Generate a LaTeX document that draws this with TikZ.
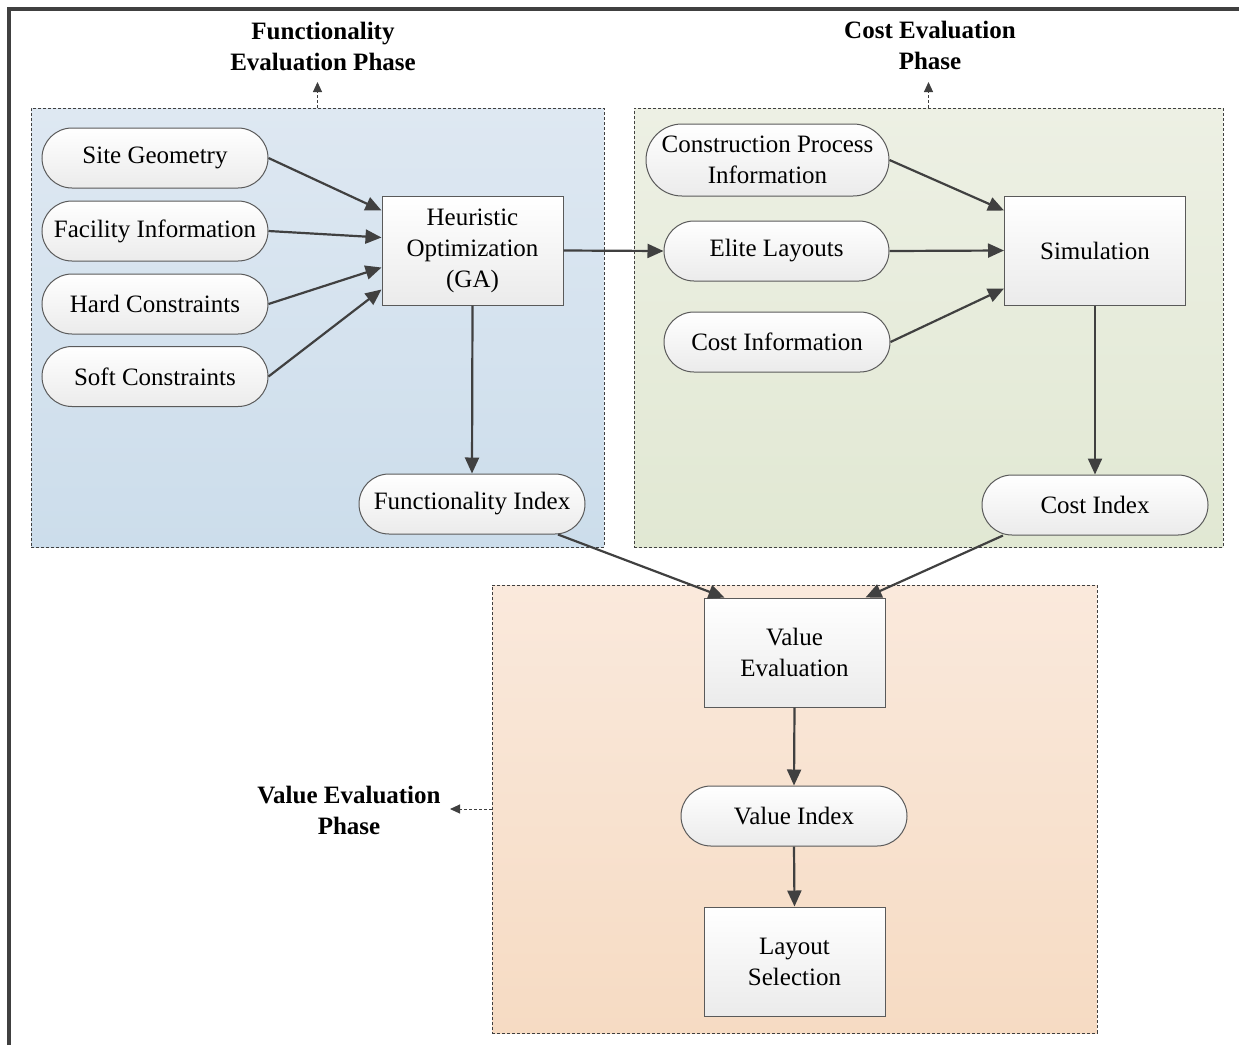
\documentclass[tikz,border=0pt]{standalone}
\usepackage{fontspec}
\setmainfont{Liberation Serif}
\usetikzlibrary{arrows.meta,calc}
\definecolor{linec}{HTML}{404040}
\definecolor{nodeb}{HTML}{5A5A5A}
\definecolor{blueT}{HTML}{DEE8F2}
\definecolor{blueB}{HTML}{CCDDEB}
\definecolor{greenT}{HTML}{EDF0E4}
\definecolor{greenB}{HTML}{E1E8D3}
\definecolor{orT}{HTML}{FAE9DC}
\definecolor{orB}{HTML}{F6DBC3}
\definecolor{grayB}{HTML}{EBEBEB}
\tikzset{
  txt/.style={font=\fontsize{25}{31}\selectfont, align=center},
  pill/.style={txt, rectangle, rounded corners=30pt, minimum width=226pt, minimum height=60pt,
    draw=nodeb, line width=1pt, top color=white, bottom color=grayB, inner sep=0pt},
  procbox/.style={txt, rectangle, minimum width=181pt, minimum height=109pt,
    draw=nodeb, line width=1pt, top color=white, bottom color=grayB, inner sep=0pt},
  phasebox/.style={rectangle, draw=linec, dash pattern=on 3pt off 2pt, line width=0.9pt, inner sep=0pt},
  phaselabel/.style={font=\bfseries\fontsize{25}{31}\selectfont, align=center, inner sep=0pt},
  conn/.style={draw=linec, line width=2.2pt, -{Triangle[length=16pt,width=14pt]}},
  dconn/.style={draw=linec, line width=1pt, dash pattern=on 3pt off 2pt, -{Triangle[length=10pt,width=9pt]}},
}
\begin{document}
\begin{tikzpicture}[x=1pt,y=-1pt]
\useasboundingbox (0,0) rectangle (1239,1045);
% outer frame
\draw[line width=4.5pt, linec] (9,1045) -- (9,9) -- (1239,9);

% phase regions
\node[phasebox, minimum width=573pt, minimum height=439pt, top color=blueT, bottom color=blueB] (fp) at (317.5,327.5) {};
\node[phasebox, minimum width=589pt, minimum height=439pt, top color=greenT, bottom color=greenB] (cp) at (928.5,327.5) {};
\node[phasebox, minimum width=605pt, minimum height=448pt, top color=orT, bottom color=orB] (vp) at (794.5,809) {};

% phase labels
\node[phaselabel] (fpl) at (323,46) {Functionality\\Evaluation Phase};
\node[phaselabel] (cpl) at (930,45) {Cost Evaluation\\Phase};
\node[phaselabel] (vpl) at (349,810) {Value Evaluation\\Phase};
\coordinate (fpt) at (316,82);
\coordinate (cpt) at (930,82);
\coordinate (vpt) at (450,809);
\draw[dconn] (fp.north) -- (fp.north |- fpt);
\draw[dconn] (cp.north) -- (cp.north |- cpt);
\draw[dconn] (vp.west) -- (vpt |- vp.west);

% functionality phase
\node[pill] (sg) at (155,158) {Site Geometry};
\node[pill] (fi) at (155,231) {Facility Information};
\node[pill] (hc) at (155,304) {Hard Constraints};
\node[pill] (sc) at (155,376.5) {Soft Constraints};
\node[procbox] (ho) at (472.5,250.5) {Heuristic\\Optimization\\(GA)};
\node[pill] (fx) at (472,504) {Functionality Index};

% cost phase
\node[pill, minimum width=243pt, minimum height=72pt, rounded corners=36pt] (cpi) at (767.5,160) {Construction Process\\Information};
\node[pill, minimum width=225pt] (el) at (776.5,251) {Elite Layouts};
\node[pill] (ci) at (777,342) {Cost Information};
\node[procbox] (sim) at (1095,250.5) {Simulation};
\node[pill] (cx) at (1095,505) {Cost Index};

% value phase
\node[procbox] (ve) at (794.5,652.5) {Value\\Evaluation};
\node[pill] (vx) at (794,816) {Value Index};
\node[procbox] (ls) at (794.5,961.5) {Layout\\Selection};

% connectors
\draw[conn] (sg.east) -- ([yshift=40pt]ho.west);
\draw[conn] (fi.east) -- ([yshift=13pt]ho.west);
\draw[conn] (hc.east) -- ([yshift=-17pt]ho.west);
\draw[conn] (sc.east) -- ([yshift=-39pt]ho.west);
\draw[conn] (ho.east) -- (el.west);
\draw[conn] (ho.south) -- (fx.north);
\draw[conn] (cpi.east) -- ([yshift=40pt]sim.west);
\draw[conn] (el.east) -- (sim.west);
\draw[conn] (ci.east) -- ([yshift=-38pt]sim.west);
\draw[conn] (sim.south) -- (cx.north);
\draw[conn] ([xshift=86pt]fx.south) -- ([xshift=-70pt]ve.north);
\draw[conn] ([xshift=-92pt]cx.south) -- ([xshift=71pt]ve.north);
\draw[conn] (ve.south) -- (vx.north);
\draw[conn] (vx.south) -- (ls.north);
\end{tikzpicture}
\end{document}
